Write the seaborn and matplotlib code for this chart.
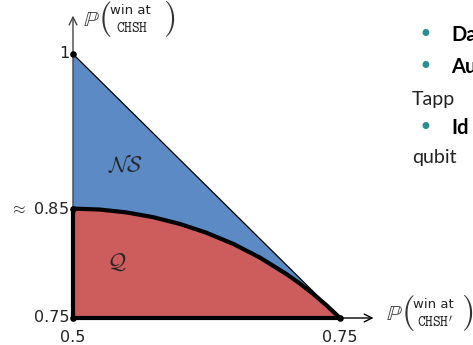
import matplotlib
matplotlib.use("Agg")
import matplotlib.pyplot as plt
import seaborn as sns
import numpy as np

sns.set_theme(style="white")
plt.rcParams['font.family'] = ['DejaVu Sans']
plt.rcParams['mathtext.fontset'] = 'cm'

# Data
x_origin = 0.5
x_max = 0.75
y_origin = 0.75
y_top = 1.0
y_quantum = 0.8536
# quantum boundary (x, y) points
q_x = [0.5, 0.525, 0.55, 0.575, 0.6, 0.625, 0.65, 0.675, 0.7, 0.7125, 0.725, 0.7375, 0.75]
q_y = [0.8536, 0.8527, 0.85, 0.8455, 0.8391, 0.8307, 0.8202, 0.8072, 0.7915, 0.7826, 0.7727, 0.7619, 0.75]
ns_x = [0.5, 0.5, 0.75]
ns_y = [0.75, 1.0, 0.75]
ytick_vals = [0.75, 0.8536, 1.0]
ytick_labels = ["0.75", r"$\approx$ 0.85", "1"]
xtick_vals = [0.5, 0.75]
xtick_labels = ["0.5", "0.75"]
bullets = ["Da", "Au", "Id"]
plain_lines = ["Tapp", "qubit"]

blue = "#5b8ac5"
red = "#cd5c5c"
teal = "#2a8f8c"

W, H = 473, 345
fig = plt.figure(figsize=(W / 100, H / 100), dpi=100)
ax = fig.add_axes([73 / W, (H - 318) / H, 267 / W, 264 / H])
ax.set_xlim(0.5, 0.75)
ax.set_ylim(0.75, 1.0)
ax.axis("off")

def ftext(px, py, s, **kw):
    return fig.text(px / W, 1 - py / H, s, **kw)

# NS triangle
ax.fill(ns_x, ns_y, color=blue, lw=0, zorder=1)
ax.plot([0.5, 0.75], [1.0, 0.75], color="black", lw=0.9, zorder=3, clip_on=False)
# Q region
qx = [0.5] + q_x + [0.75]
qy = [0.75] + q_y + [0.75]
ax.fill(qx, qy, color=red, lw=0, zorder=2)
sns.lineplot(x=q_x, y=q_y, sort=False, color="black", lw=3, ax=ax, zorder=4,
             estimator=None, clip_on=False)

# axes
ax.annotate("", xy=(0.5, 1.039), xytext=(0.5, 0.75),
            arrowprops=dict(arrowstyle="->", color="#444444", lw=1.0, mutation_scale=14),
            annotation_clip=False, zorder=3)
ax.annotate("", xy=(0.784, 0.75), xytext=(0.5, 0.75),
            arrowprops=dict(arrowstyle="->", color="black", lw=1.0, mutation_scale=14),
            annotation_clip=False, zorder=3)
# thick Q edges
ax.plot([0.5, 0.5], [0.75, y_quantum], color="black", lw=3, zorder=4,
        solid_capstyle="butt", clip_on=False)
ax.plot([0.5, 0.75], [0.75, 0.75], color="black", lw=3, zorder=4,
        solid_capstyle="butt", clip_on=False)

# tick dots
ax.scatter([0.5] * len(ytick_vals), ytick_vals, s=14, color="black", zorder=6, clip_on=False)
ax.scatter([0.75], [0.75], s=14, color="black", zorder=6, clip_on=False)

for v, lab in zip(ytick_vals, ytick_labels):
    ax.text(0.5 - 0.0035, v, lab, ha="right", va="center", fontsize=11.5, color="#222222")
for v, lab in zip(xtick_vals, xtick_labels):
    ax.text(v, 0.75 - 0.011, lab, ha="center", va="top", fontsize=11.5, color="#222222")

ax.text(0.549, 0.895, r"$\mathcal{NS}$", ha="center", va="center", fontsize=16)
ax.text(0.541, 0.803, r"$\mathcal{Q}$", ha="center", va="center", fontsize=16)

# axis labels built from pieces
def prob_label(x0, yc, bottom_word, close_off):
    ftext(x0, yc + 1, r"$\mathbb{P}$", fontsize=15.5, ha="left", va="center", color="#333333")
    ftext(x0 + 15, yc, r"$($", fontsize=25, ha="left", va="center", color="#333333")
    ftext(x0 + 47, yc - 8, "win at", fontsize=9.5, ha="center", va="center", color="#222222")
    ftext(x0 + 49, yc + 9, bottom_word, fontsize=10.5, ha="center", va="center", color="#222222")
    ftext(x0 + close_off, yc, r"$)$", fontsize=25, ha="left", va="center", color="#333333")

prob_label(83, 19, r"$\mathtt{CHSH}$", 80)
prob_label(386, 313, r"$\mathtt{CHSH}'$", 75)

# right-hand text (cut off at figure edge, as in the source slide)
for yy, t in zip([35, 67, 128], bullets):
    ftext(425, yy, "\u2022", color=teal, fontsize=17, ha="center", va="center")
    ftext(451, yy, t, color="black", fontsize=14.5, fontweight="bold",
          ha="left", va="center", family="Lato")
for yy, t in zip([100, 158], plain_lines):
    ftext(412, yy, t, color="#222222", fontsize=14, ha="left",
          va="center", family="Lato")

fig.savefig("out.png", dpi=100)
